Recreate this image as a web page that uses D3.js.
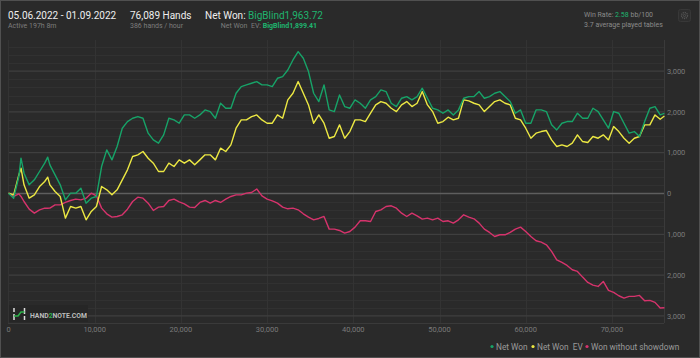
<!DOCTYPE html>
<html><head><meta charset="utf-8">
<script src="https://cdn.jsdelivr.net/npm/d3@7"></script>
<style>
html,body{margin:0;padding:0;background:#2a2a2a;}
svg{display:block;font-family:Roboto,"Noto Sans",sans-serif;}
</style></head>
<body><svg id="c" width="700" height="358"></svg>
<script>
const hands = [0,600,1200,1450,1800,2400,3000,3600,4200,4550,4800,5400,6000,6600,7200,7800,8400,9000,9600,10200,10800,11400,12000,12600,13200,13800,14400,15000,15600,16200,16800,17400,18000,18600,19200,19800,20400,21000,21600,22200,22800,23400,24000,24600,25200,25800,26400,27000,27600,28200,28800,29400,30000,30600,31200,31800,32400,33000,33600,34200,34800,35400,36000,36600,37200,37800,38400,39000,39600,40200,40800,41400,42000,42600,43200,43800,44400,45000,45600,46200,46800,47400,48000,48600,49200,49800,50400,51000,51600,52200,52800,53400,54000,54600,55200,55800,56400,57000,57600,58200,58800,59400,60000,60600,61200,61800,62400,63000,63600,64200,64800,65400,66000,66600,67200,67800,68400,69000,69600,70200,70800,71400,72000,72600,73200,73800,74400,75000,75600,76089];
const netWon = [8,-114,416,865,498,212,335,539,743,890,702,457,212,-155,8,8,131,-237,-114,-73,661,1069,824,1151,1600,1763,1845,1886,1845,1478,1314,1233,1437,1845,1804,1722,1926,1926,1845,1926,2049,2008,1845,2212,2090,2090,2457,2620,2661,2702,2743,2661,2661,2620,2824,2865,3028,3273,3477,3314,2988,2457,2253,2661,2049,2008,2416,2131,2090,2294,2212,2090,2294,2375,2539,2498,2212,2131,2335,2375,2294,2375,2580,2335,2090,2049,1967,2049,1926,2049,2335,2375,2375,2498,2335,2375,2457,2498,2375,2253,1967,2049,1722,1722,2049,2049,2008,1682,1559,1722,1763,1763,1967,1845,1845,2090,2008,1804,1600,2008,1967,1722,1478,1518,1396,1763,2090,2131,1926,1964];
const netWonEV = [8,-33,457,620,212,-114,-33,171,294,400,212,49,-73,-604,-318,-359,-318,-645,-441,-318,171,90,-33,90,335,580,906,947,1029,865,743,539,539,743,661,824,743,824,702,824,947,947,824,1110,1029,1192,1600,1804,1804,1886,1926,1804,1722,1722,1926,1845,2294,2457,2743,2457,2171,1722,1926,1722,1355,1396,1682,1355,1518,1804,1804,1763,1967,2171,2253,2212,2090,2008,2171,2253,2131,2212,2498,2171,2008,1722,1763,1869,1804,1845,2294,2269,2212,2171,2008,2131,2253,2294,2212,2171,1845,1804,1600,1355,1478,1518,1543,1314,1151,1192,1151,1233,1437,1273,1249,1396,1355,1437,1314,1641,1518,1355,1233,1355,1396,1682,1682,1926,1820,1899];
const wonNoSD = [8,-73,-8,-73,-196,-384,-482,-400,-359,-360,-359,-278,-278,-220,-171,-139,-155,-114,8,-57,-359,-498,-580,-563,-522,-384,-196,-90,-114,-237,-416,-335,-318,-171,-139,-204,-253,-335,-343,-220,-171,-237,-171,-220,-139,-73,-33,-33,8,24,110,-57,-139,-180,-237,-335,-375,-359,-400,-498,-580,-645,-612,-563,-873,-873,-906,-971,-931,-824,-669,-669,-686,-441,-400,-318,-302,-359,-482,-563,-482,-547,-629,-604,-645,-604,-686,-669,-727,-645,-522,-580,-620,-727,-873,-955,-1053,-1012,-1012,-955,-873,-824,-931,-1053,-1159,-1192,-1257,-1420,-1624,-1690,-1763,-1869,-1910,-2049,-2180,-2245,-2278,-2155,-2375,-2424,-2506,-2563,-2522,-2522,-2498,-2629,-2620,-2669,-2808,-2800];
const xTicks = [0,10000,20000,30000,40000,50000,60000,70000];
const yMajor = [-3000,-2000,-1000,0,1000,2000,3000];
const seriesNames = ["Net Won","Net Won  EV","Won without showdown"];
const seriesColors = ["#17a368","#ece843","#d6336c"];

const svg = d3.select("#c");
const W=700,H=358;
svg.append("rect").attr("x",0.5).attr("y",0.5).attr("width",W-1).attr("height",H-1).attr("fill","#2a2a2a").attr("stroke","#505050");

const x = d3.scaleLinear().domain([0,76089]).range([8.5,664.4]);
const y = d3.scaleLinear().domain([-3174,3762]).range([323,40]);

const g = svg.append("g");
const minor = d3.range(-3000,3800,200).filter(v=>v%1000!==0);
g.selectAll(".mn").data(minor).join("line").attr("x1",8).attr("x2",664).attr("y1",d=>Math.round(y(d))+0.5).attr("y2",d=>Math.round(y(d))+0.5).attr("stroke","#313131").attr("stroke-width",1);
g.selectAll(".vg").data(xTicks.slice(1)).join("line").attr("x1",d=>Math.round(x(d))+0.5).attr("x2",d=>Math.round(x(d))+0.5).attr("y1",40).attr("y2",323).attr("stroke","#333").attr("stroke-width",1);
g.selectAll(".mj").data(yMajor.filter(v=>v!==0)).join("line").attr("x1",8).attr("x2",664).attr("y1",d=>y(d)).attr("y2",d=>y(d)).attr("stroke","#3f3f3f").attr("stroke-width",1.3);
g.append("line").attr("x1",8).attr("x2",664).attr("y1",y(0)).attr("y2",y(0)).attr("stroke","#5e5e5e").attr("stroke-width",1.6);
g.append("line").attr("x1",664.5).attr("x2",664.5).attr("y1",40).attr("y2",323).attr("stroke","#3a3a3a");
g.append("line").attr("x1",8.5).attr("x2",8.5).attr("y1",40).attr("y2",323).attr("stroke","#333");
g.append("line").attr("x1",8).attr("x2",664).attr("y1",323.5).attr("y2",323.5).attr("stroke","#3a3a3a");

svg.append("g").selectAll("text").data(yMajor).join("text")
  .attr("x",667).attr("y",d=>y(d)+2.8).attr("font-size",7.5).attr("fill","#7a7a7a")
  .text(d=>d3.format(",")(Math.abs(d)));
svg.append("g").selectAll("text").data(xTicks).join("text")
  .attr("x",d=>x(d)).attr("y",332).attr("text-anchor","middle").attr("font-size",7.5).attr("fill","#7a7a7a")
  .text(d=>d3.format(",")(d));

const lg = svg.append("g");
lg.append("rect").attr("x",9).attr("y",305).attr("width",79).attr("height",17).attr("fill","#262626");
lg.append("line").attr("x1",14).attr("x2",14).attr("y1",308).attr("y2",320).attr("stroke","#ddd").attr("stroke-width",1.5).attr("stroke-dasharray","4,2,6");
lg.append("line").attr("x1",24.5).attr("x2",24.5).attr("y1",308).attr("y2",320).attr("stroke","#ddd").attr("stroke-width",1.5).attr("stroke-dasharray","6,2,4");
lg.append("path").attr("d","M14,316 L18,316 L21,312 L24.5,312").attr("fill","none").attr("stroke","#2db34a").attr("stroke-width",1.5);
const lt = lg.append("text").attr("x",30).attr("y",317.5).attr("font-size",6.8).attr("font-weight","bold").attr("fill","#bdbdbd");
lt.append("tspan").text("HAND");
lt.append("tspan").attr("fill","#2db34a").text("2");
lt.append("tspan").text("NOTE.COM");

const series = [netWon, netWonEV, wonNoSD];
const line = d3.line().x((d,i)=>x(hands[i])).y(d=>y(d));
[2,1,0].forEach(si=>{
  svg.append("path").datum(series[si]).attr("d",line).attr("fill","none")
    .attr("stroke",seriesColors[si]).attr("stroke-width",1.4).attr("stroke-linejoin","round");
});

const legX = [492,533,587];
const lgd = svg.append("g");
seriesNames.forEach((n,i)=>{
  lgd.append("circle").attr("cx",legX[i]).attr("cy",346.5).attr("r",1.6).attr("fill",seriesColors[i]);
  lgd.append("text").attr("x",legX[i]+4).attr("y",349.5).attr("font-size",8.3).attr("fill","#9a9a9a").style("white-space","pre").text(n);
});

const hd = svg.append("g");
hd.append("text").attr("x",8).attr("y",18.5).attr("font-size",10).attr("fill","#eeeeee").text("05.06.2022 - 01.09.2022");
hd.append("text").attr("x",8).attr("y",27.7).attr("font-size",7).attr("fill","#7d7d7d").text("Active 197h 8m");
hd.append("text").attr("x",130).attr("y",18.5).attr("font-size",10).attr("fill","#eeeeee").text("76,089 Hands");
hd.append("text").attr("x",130).attr("y",27.7).attr("font-size",7).attr("fill","#7d7d7d").text("386 hands / hour");
const nw = hd.append("text").attr("x",205).attr("y",18.5).attr("font-size",10).attr("fill","#eeeeee");
nw.append("tspan").text("Net Won: ");
nw.append("tspan").attr("fill","#1fb56f").text("BigBlind1,963.72");
const nwe = hd.append("text").attr("x",317).attr("y",27.7).attr("text-anchor","end").attr("font-size",7).attr("fill","#7d7d7d").style("white-space","pre");
nwe.append("tspan").text("Net Won  EV: ");
nwe.append("tspan").attr("fill","#1fb56f").attr("font-weight","bold").text("BigBlind1,899.41");
const wr = hd.append("text").attr("x",584).attr("y",16.5).attr("font-size",7).attr("fill","#8a8a8a");
wr.append("tspan").text("Win Rate: ");
wr.append("tspan").attr("fill","#1fb56f").text("2.58");
wr.append("tspan").text(" bb/100");
hd.append("text").attr("x",584).attr("y",26.5).attr("font-size",7).attr("fill","#8a8a8a").text("3.7 average played tables");
hd.append("rect").attr("x",678.5).attr("y",9.5).attr("width",12).attr("height",12).attr("rx",2).attr("fill","#2e2e2e").attr("stroke","#383838");
hd.append("circle").attr("cx",684.5).attr("cy",15.5).attr("r",3).attr("fill","none").attr("stroke","#555").attr("stroke-width",1.3).attr("stroke-dasharray","1.2,0.8");
hd.append("circle").attr("cx",684.5).attr("cy",15.5).attr("r",1.1).attr("fill","none").attr("stroke","#555").attr("stroke-width",0.8);
</script></body></html>
